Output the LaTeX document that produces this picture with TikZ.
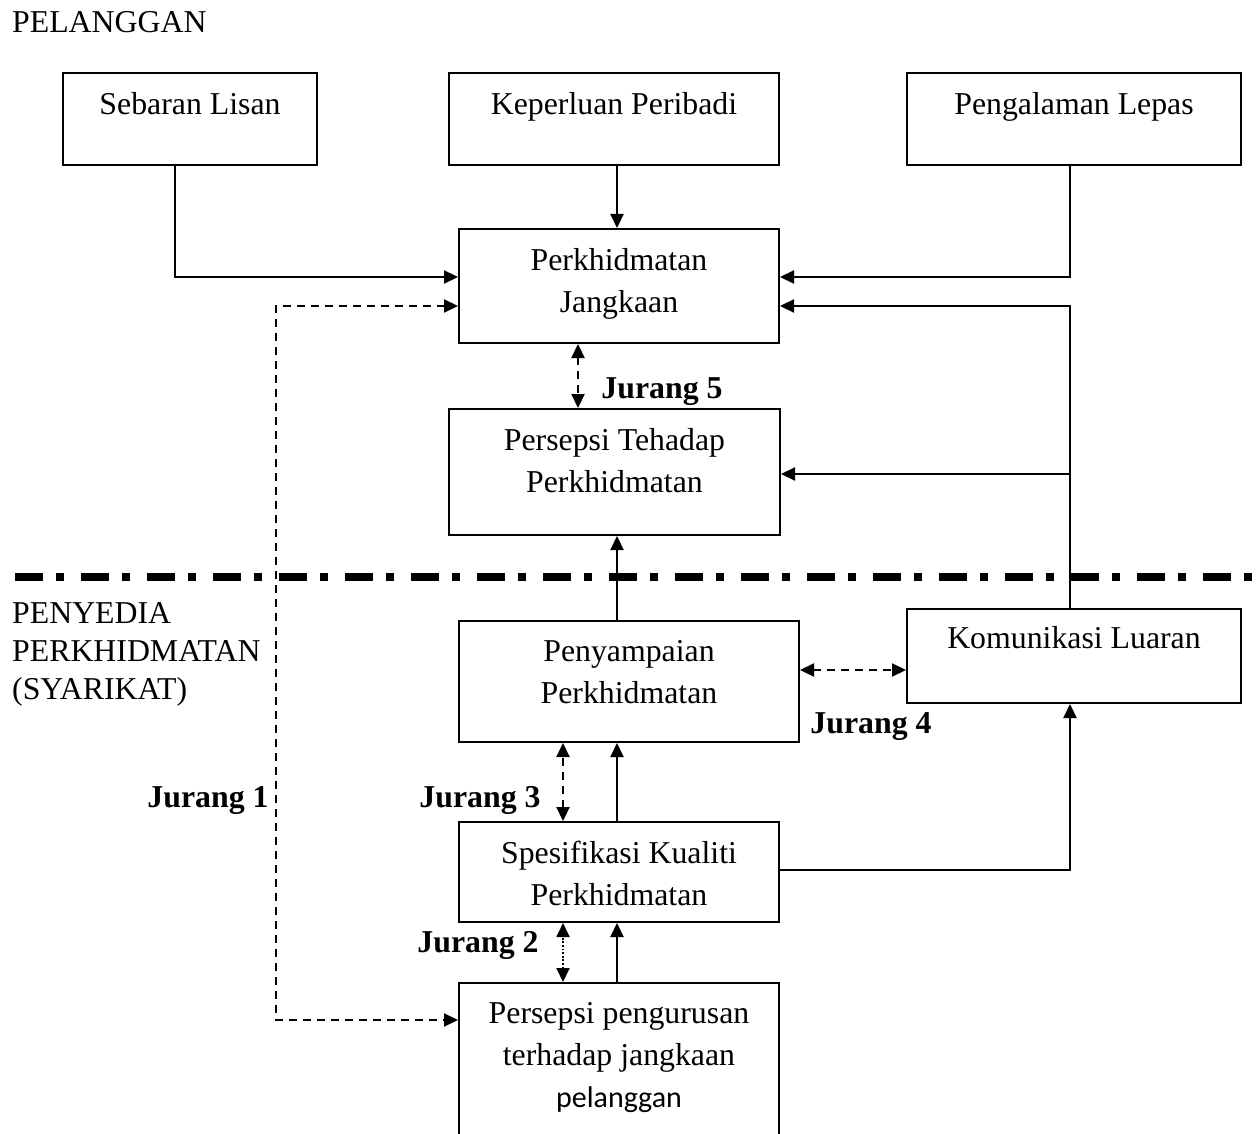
\documentclass[tikz,border=0pt]{standalone}
\usepackage{fontspec}
\setmainfont{Liberation Serif}
\newfontfamily\calibrifont{Carlito}
\usetikzlibrary{arrows.meta}

\begin{document}
\begin{tikzpicture}[
  x=1pt, y=-1pt,
  font=\fontsize{31.8pt}{42pt}\selectfont,
  box/.style={draw, line width=2pt, anchor=north west, inner sep=0pt},
  boxtext/.style={anchor=north, inner sep=0pt, yshift=-20pt, align=center},
  arr/.style={line width=2.2pt, -{Triangle[length=14pt, width=13pt]}},
  gaparr/.style={line width=2.2pt, dash pattern=on 8pt off 6pt,
    {Triangle[length=14pt, width=13pt]}-{Triangle[length=14pt, width=13pt]}},
  dotarr/.style={line width=1.8pt, dash pattern=on 1.8pt off 1.8pt,
    {Triangle[length=14pt, width=13pt]}-{Triangle[length=14pt, width=13pt]}},
  gaplabel/.style={anchor=base, font=\fontsize{31.8pt}{42pt}\selectfont\bfseries},
  sidetext/.style={anchor=north west, inner sep=0pt, align=left}
]
  \clip (0,0) rectangle (1259,1134);

  % Sides
  \node[anchor=base west, inner sep=0pt] (sidecust) at (12,33) {PELANGGAN};
  \node[sidetext, font=\fontsize{31.8pt}{38pt}\selectfont] (sideprov) at (12,602)
    {PENYEDIA\\PERKHIDMATAN\\(SYARIKAT)};

  % Divider
  \draw[line width=8pt, dash pattern=on 28pt off 13pt on 8pt off 17pt]
    (15,577) -- (1259,577);

  % Boxes - customer side
  \node[box, minimum width=254pt, minimum height=92pt,
    label={[boxtext]north:Sebaran Lisan}] (lisan) at (62,72) {};
  \node[box, minimum width=330pt, minimum height=92pt,
    label={[boxtext]north:Keperluan Peribadi}] (peribadi) at (448,72) {};
  \node[box, minimum width=334pt, minimum height=92pt,
    label={[boxtext]north:Pengalaman Lepas}] (lepas) at (906,72) {};
  \node[box, minimum width=320pt, minimum height=114pt,
    label={[boxtext]north:{Perkhidmatan\\Jangkaan}}] (jangkaan) at (458,228) {};
  \node[box, minimum width=331pt, minimum height=126pt,
    label={[boxtext]north:{Persepsi Tehadap\\Perkhidmatan}}] (persepsi) at (448,408) {};

  % Boxes - provider side
  \node[box, minimum width=340pt, minimum height=121pt,
    label={[boxtext]north:{Penyampaian\\Perkhidmatan}}] (penyampaian) at (458,620) {};
  \node[box, minimum width=334pt, minimum height=94pt,
    label={[boxtext, yshift=2pt]north:Komunikasi Luaran}] (komunikasi) at (906,608) {};
  \node[box, minimum width=320pt, minimum height=100pt,
    label={[boxtext]north:{Spesifikasi Kualiti\\Perkhidmatan}}] (spesifikasi) at (458,821) {};
  \node[box, minimum width=320pt, minimum height=200pt,
    label={[boxtext]north:{Persepsi pengurusan\\terhadap jangkaan\\{\calibrifont\fontsize{30pt}{42pt}\selectfont pelanggan}}}]
    (pengurusan) at (458,982) {};

  % Solid connectors
  \draw[arr] (lisan.south -| 175,0) |- (jangkaan.west |- 0,277);
  \draw[arr] (peribadi.south -| 617,0) -- (jangkaan.north -| 617,0);
  \draw[arr] (lepas.south -| 1070,0) |- (jangkaan.east |- 0,277);
  \draw[arr] (komunikasi.north -| 1070,0) |- (jangkaan.east |- 0,306);
  \coordinate (split) at (1070,474);
  \draw[arr] (split) -- (persepsi.east |- split);
  \draw[arr] (penyampaian.north -| 617,0) -- (persepsi.south -| 617,0);
  \draw[arr] (spesifikasi.north -| 617,0) -- (penyampaian.south -| 617,0);
  \draw[arr] (spesifikasi.east |- 0,870) -| (komunikasi.south -| 1070,0);
  \draw[arr] (pengurusan.north -| 617,0) -- (spesifikasi.south -| 617,0);

  % Gaps
  \draw[gaparr] (jangkaan.west |- 0,306) -| (276,1020) -- (pengurusan.west |- 0,1020);
  \draw[gaparr] (jangkaan.south -| 578,0) -- (persepsi.north -| 578,0);
  \draw[gaparr] (penyampaian.east |- 0,670) -- (komunikasi.west |- 0,670);
  \draw[gaparr] (spesifikasi.north -| 563,0) -- (penyampaian.south -| 563,0);
  \draw[dotarr] (pengurusan.north -| 563,0) -- (spesifikasi.south -| 563,0);

  \node[gaplabel] (jurang1) at (208,807) {Jurang 1};
  \node[gaplabel] (jurang2) at (478,952) {Jurang 2};
  \node[gaplabel] (jurang3) at (480,807) {Jurang 3};
  \node[gaplabel] (jurang4) at (871,733) {Jurang 4};
  \node[gaplabel] (jurang5) at (662,398) {Jurang 5};
\end{tikzpicture}
\end{document}
